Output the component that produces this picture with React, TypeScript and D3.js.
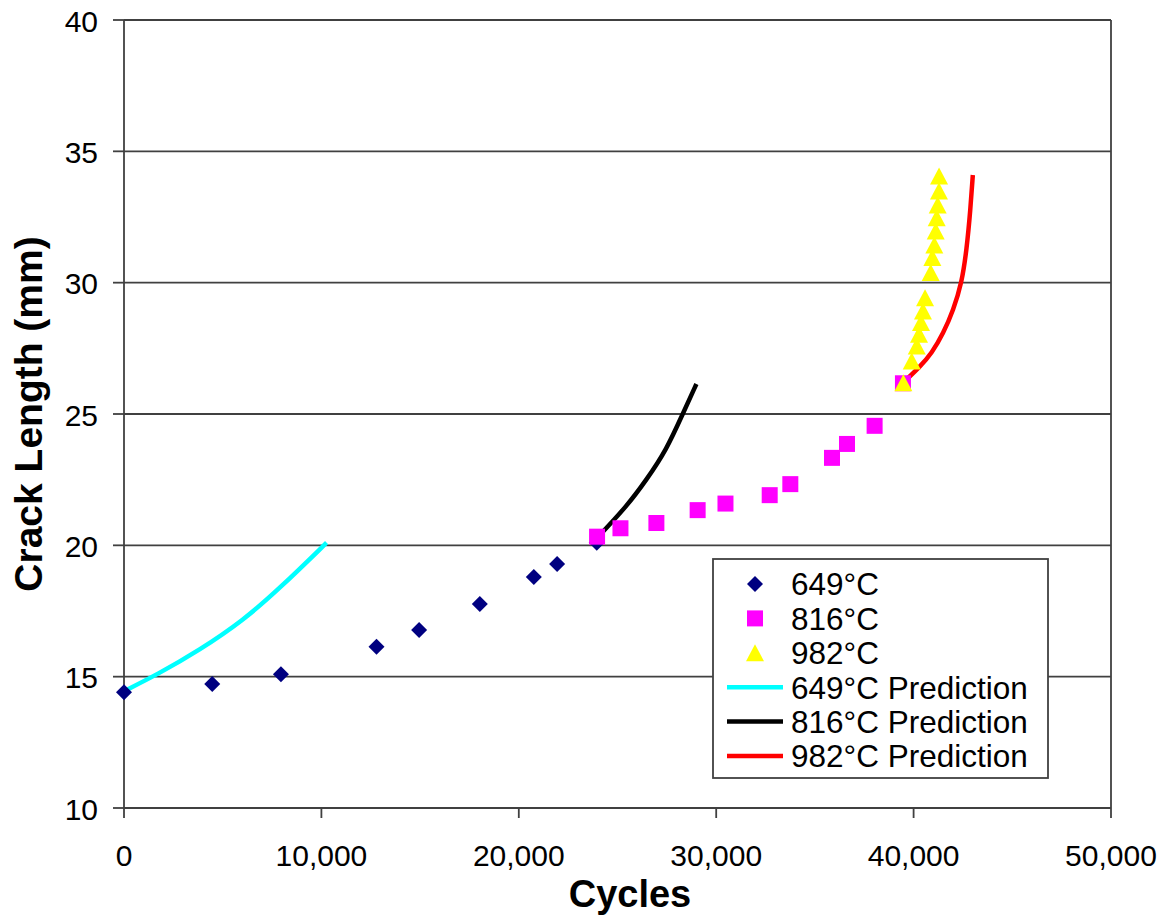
import React from "react";
import * as d3 from "d3";

// Measured crack length (mm) against cycles at three temperatures
const cycles649 = [0, 4470, 7950, 12790, 14950, 18025, 20760, 21940, 23950];
const crack649 = [14.41, 14.72, 15.09, 16.14, 16.78, 17.77, 18.79, 19.29, 20.1];

const cycles816 = [23965, 25150, 26970, 29060, 30470, 32710, 33755, 35865, 36625, 38025, 39460];
const crack816 = [20.33, 20.65, 20.85, 21.34, 21.59, 21.91, 22.33, 23.33, 23.86, 24.55, 26.17];

const cycles982 = [
  39480, 39905, 40160, 40275, 40375, 40475, 40580,
  40865, 40950, 41050, 41120, 41170, 41220, 41285, 41290,
];
const crack982 = [
  26.19, 27.02, 27.59, 28.04, 28.48, 28.92, 29.43,
  30.39, 30.96, 31.43, 31.97, 32.47, 32.96, 33.49, 34.06,
];

// Model predictions
const predCycles649 = [0, 1656, 3848, 6040, 7899, 10263];
const predCrack649 = [14.45, 15.07, 16.02, 17.14, 18.37, 20.1];

const predCycles816 = [24050, 25453, 26465, 27478, 28320, 28997];
const predCrack816 = [20.35, 21.47, 22.49, 23.63, 25.03, 26.14];

const predCycles982 = [39550, 40324, 40916, 41505, 42012, 42437, 42690, 42880, 43000];
const predCrack982 = [26.25, 26.8, 27.31, 28.07, 28.96, 29.98, 31.27, 32.8, 34.1];

const xTicks = [0, 10000, 20000, 30000, 40000, 50000];
const yTicks = [10, 15, 20, 25, 30, 35, 40];

const legendLabels = [
  "649°C",
  "816°C",
  "982°C",
  "649°C Prediction",
  "816°C Prediction",
  "982°C Prediction",
];

const COLORS = {
  d649: "#000080",
  d816: "#FF00FF",
  d982: "#FFFF00",
  p649: "#00FFFF",
  p816: "#000000",
  p982: "#FF0000",
};

const FONT = "'Liberation Sans', Arial, sans-serif";
const W = 1171;
const H = 916;
const LEFT = 124;
const RIGHT = 1111;
const TOP = 20;
const BOTTOM = 808;
const GRID = "#404040";

const x = d3.scaleLinear().domain([0, 50000]).range([LEFT, RIGHT]);
const y = d3.scaleLinear().domain([10, 40]).range([BOTTOM, TOP]);
const fmt = d3.format(",");

const diamond = (cx: number, cy: number, r = 8) =>
  `M${cx},${cy - r}L${cx + r},${cy}L${cx},${cy + r}L${cx - r},${cy}Z`;
const square = (cx: number, cy: number, s = 16) =>
  `M${cx - s / 2},${cy - s / 2}h${s}v${s}h${-s}Z`;
const triangle = (cx: number, cy: number, w = 18, h = 17) =>
  `M${cx},${cy - h / 2}L${cx + w / 2},${cy + h / 2}L${cx - w / 2},${cy + h / 2}Z`;

const zip = (xs: number[], ys: number[]) => xs.map((v, i) => [v, ys[i]] as [number, number]);

const line = d3
  .line<[number, number]>()
  .x((d) => x(d[0]))
  .y((d) => y(d[1]))
  .curve(d3.curveBasis);

export default function App() {
  const pts649 = zip(cycles649, crack649);
  const pts816 = zip(cycles816, crack816);
  const pts982 = zip(cycles982, crack982);

  const legendX = 713;
  const legendY = 559;
  const legendW = 335;
  const legendH = 219;
  const rowY = (i: number) => 584 + i * 34.4;
  const symX = 755;

  return (
    <svg
      width={W}
      height={H}
      style={{ position: "absolute", left: 0, top: 0, background: "#fff" }}
      fontFamily={FONT}
    >
      <rect x={0} y={0} width={W} height={H} fill="#fff" />

      {/* horizontal gridlines */}
      {yTicks.map((t) => (
        <line key={`g${t}`} x1={LEFT} x2={RIGHT} y1={y(t)} y2={y(t)} stroke={GRID} strokeWidth={1.8} />
      ))}
      {/* plot frame: left axis and right edge */}
      <line x1={LEFT} x2={LEFT} y1={TOP} y2={BOTTOM} stroke={GRID} strokeWidth={1.8} />
      <line x1={RIGHT} x2={RIGHT} y1={TOP} y2={BOTTOM} stroke={GRID} strokeWidth={1.8} />

      {/* y ticks and labels */}
      {yTicks.map((t) => (
        <g key={`yt${t}`}>
          <line x1={LEFT - 11} x2={LEFT} y1={y(t)} y2={y(t)} stroke={GRID} strokeWidth={1.8} />
          <text x={98} y={y(t) + 1} dy="0.35em" textAnchor="end" fontSize={30} fill="#000">
            {t}
          </text>
        </g>
      ))}

      {/* x ticks and labels */}
      {xTicks.map((t) => (
        <g key={`xt${t}`}>
          <line x1={x(t)} x2={x(t)} y1={BOTTOM} y2={BOTTOM + 10} stroke={GRID} strokeWidth={1.8} />
          <text x={x(t)} y={866} textAnchor="middle" fontSize={30} fill="#000">
            {fmt(t)}
          </text>
        </g>
      ))}

      {/* axis titles */}
      <text x={630} y={907} textAnchor="middle" fontSize={38} fontWeight="bold" fill="#000">
        Cycles
      </text>
      <text
        transform={`translate(42,414) rotate(-90)`}
        textAnchor="middle"
        fontSize={39}
        fontWeight="bold"
        fill="#000"
      >
        Crack Length (mm)
      </text>

      {/* prediction curves */}
      <path d={line(zip(predCycles649, predCrack649)) || ""} fill="none" stroke={COLORS.p649} strokeWidth={4.5} />
      <path d={line(zip(predCycles816, predCrack816)) || ""} fill="none" stroke={COLORS.p816} strokeWidth={4.5} />
      <path d={line(zip(predCycles982, predCrack982)) || ""} fill="none" stroke={COLORS.p982} strokeWidth={4.5} />

      {/* measured points */}
      {pts649.map((d, i) => (
        <path key={`a${i}`} d={diamond(x(d[0]), y(d[1]))} fill={COLORS.d649} />
      ))}
      {pts816.map((d, i) => (
        <path key={`b${i}`} d={square(x(d[0]), y(d[1]))} fill={COLORS.d816} />
      ))}
      {pts982.map((d, i) => (
        <path key={`c${i}`} d={triangle(x(d[0]), y(d[1]))} fill={COLORS.d982} />
      ))}

      {/* legend */}
      <rect x={legendX} y={legendY} width={legendW} height={legendH} fill="#fff" stroke={GRID} strokeWidth={1.8} />
      <path d={diamond(symX, rowY(0))} fill={COLORS.d649} />
      <path d={square(symX, rowY(1))} fill={COLORS.d816} />
      <path d={triangle(symX, rowY(2))} fill={COLORS.d982} />
      {[COLORS.p649, COLORS.p816, COLORS.p982].map((c, i) => (
        <line key={`ll${i}`} x1={727} x2={783} y1={rowY(3 + i)} y2={rowY(3 + i)} stroke={c} strokeWidth={4.5} />
      ))}
      {legendLabels.map((s, i) => (
        <text key={`lt${i}`} x={791} y={rowY(i)} dy="0.36em" fontSize={31.5} fill="#000">
          {s}
        </text>
      ))}
    </svg>
  );
}
